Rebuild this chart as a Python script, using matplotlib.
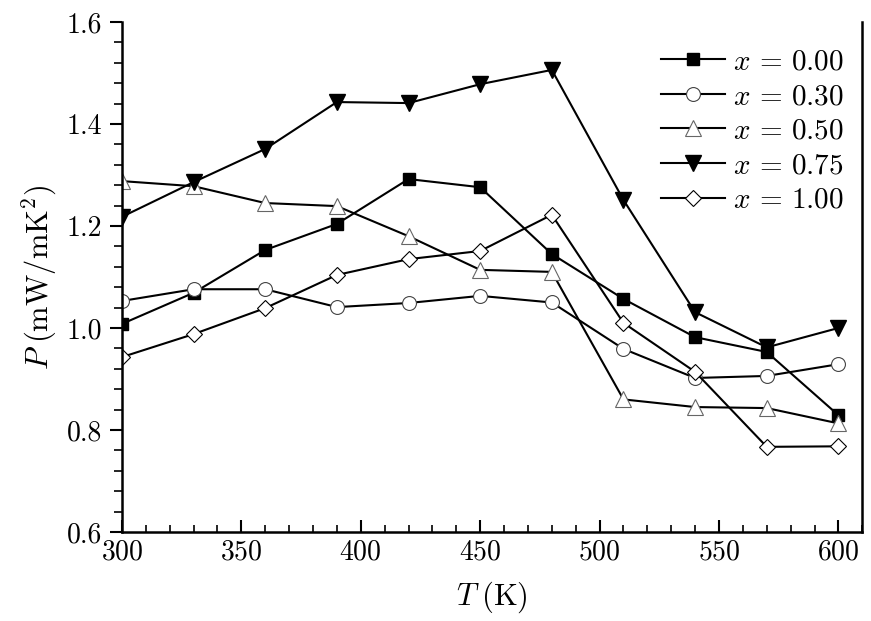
import matplotlib
matplotlib.use("Agg")
import matplotlib.pyplot as plt
from matplotlib.ticker import MultipleLocator, FormatStrFormatter

plt.rcParams['font.family'] = ['cmr10', 'DejaVu Serif']
plt.rcParams['mathtext.fontset'] = 'cm'
plt.rcParams['axes.formatter.use_mathtext'] = True

T = [300, 330, 360, 390, 420, 450, 480, 510, 540, 570, 600]
p000 = [1.008, 1.069, 1.153, 1.204, 1.292, 1.276, 1.145, 1.057, 0.982, 0.953, 0.829]
p030 = [1.053, 1.076, 1.076, 1.041, 1.049, 1.063, 1.050, 0.959, 0.902, 0.906, 0.929]
p050 = [1.288, 1.278, 1.245, 1.239, 1.180, 1.114, 1.110, 0.860, 0.845, 0.843, 0.813]
p075 = [1.218, 1.286, 1.351, 1.443, 1.441, 1.478, 1.506, 1.251, 1.031, 0.962, 1.000]
p100 = [0.943, 0.988, 1.039, 1.104, 1.135, 1.151, 1.222, 1.010, 0.914, 0.767, 0.768]
labels = [r'$x\,=\,0.00$', r'$x\,=\,0.30$', r'$x\,=\,0.50$', r'$x\,=\,0.75$', r'$x\,=\,1.00$']

fig = plt.figure(figsize=(8.71, 6.21), dpi=100)
ax = fig.add_axes([0.140, 0.1433, 0.850, 0.8213])

styles = [
    dict(marker='s', mfc='black', mec='black', ms=9),
    dict(marker='o', mfc='white', mec='#444444', ms=10, mew=0.8),
    dict(marker='^', mfc='white', mec='#666666', ms=11, mew=0.8),
    dict(marker='v', mfc='black', mec='black', ms=11),
    dict(marker='D', mfc='white', mec='black', ms=8.5, mew=0.8),
]
for ys, lab, st in zip([p000, p030, p050, p075, p100], labels, styles):
    ax.plot(T, ys, color='black', lw=1.5, label=lab, **st)

ax.set_xlim(300, 610)
ax.set_ylim(0.6, 1.6)
ax.xaxis.set_major_locator(MultipleLocator(50))
ax.xaxis.set_minor_locator(MultipleLocator(10))
ax.yaxis.set_major_locator(MultipleLocator(0.2))
ax.yaxis.set_minor_locator(MultipleLocator(0.04))
ax.yaxis.set_major_formatter(FormatStrFormatter('%.1f'))

ax.tick_params(axis='x', which='both', direction='in', top=False, labelsize=20, pad=5)
ax.tick_params(axis='x', which='major', length=9, width=1.5)
ax.tick_params(axis='x', which='minor', length=5, width=1.2)
ax.tick_params(axis='y', which='both', direction='out', right=False, labelsize=20, pad=5)
ax.tick_params(axis='y', which='major', length=9, width=1.5)
ax.tick_params(axis='y', which='minor', length=6, width=1.2)

ax.spines['top'].set_visible(False)
for s in ['left', 'bottom', 'right']:
    ax.spines[s].set_linewidth(1.8)

ax.set_xlabel(r'$T\;(\mathrm{K})$', fontsize=22, labelpad=10)
ax.set_ylabel(r'$P\;(\mathrm{mW/mK^2})$', fontsize=22, labelpad=6)

ax.legend(loc='upper right', bbox_to_anchor=(1.015, 1.004), frameon=False,
          fontsize=21, handlelength=2.2, labelspacing=0.28, borderaxespad=0.6,
          handletextpad=0.3)

fig.savefig('out.png', dpi=100)
